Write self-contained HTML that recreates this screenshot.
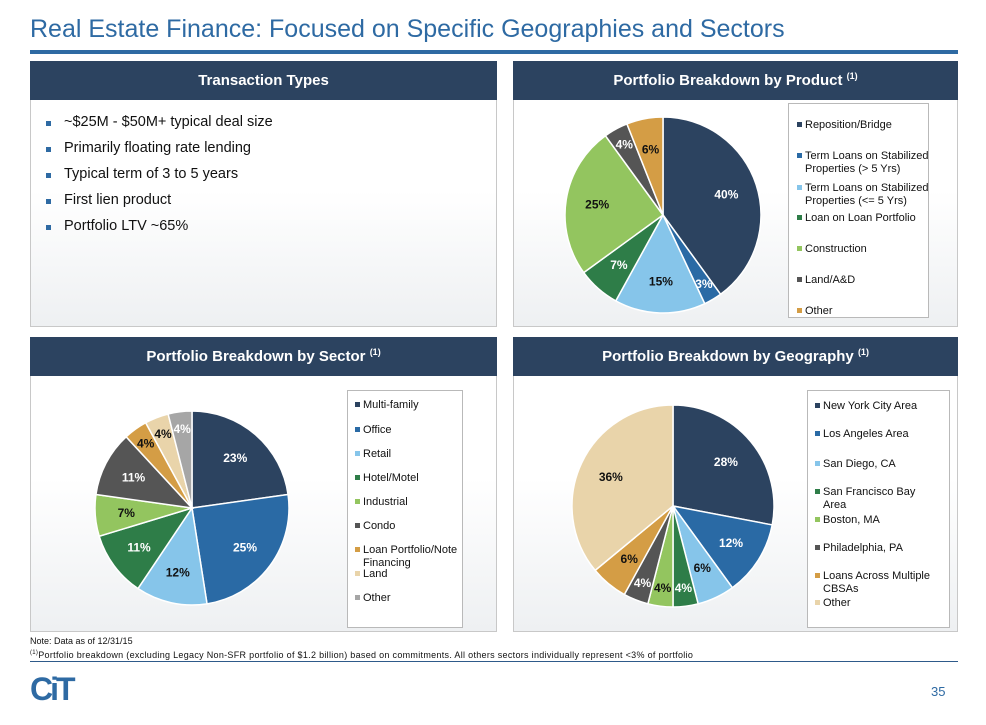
<!DOCTYPE html>
<html><head><meta charset="utf-8">
<style>
body{margin:0;width:986px;height:725px;background:#fff;font-family:"Liberation Sans",Arial,sans-serif;position:relative;overflow:hidden}
.abs{position:absolute}
.title{left:30px;top:15px;font-size:25px;color:#2e6aa3;white-space:nowrap}
.rule{left:30px;top:50px;width:928px;height:4px;background:#2e6aa3}
.hdr{background:#2c4360;color:#fff;font-weight:bold;font-size:15px;text-align:center;line-height:39px;height:39px}
.hdr sup{font-size:9px;line-height:0;vertical-align:6px}
.body{border:1px solid #c8c8c8;border-top:none;background:linear-gradient(#fff 40%,#eef0f2);box-sizing:border-box}
.bul{left:64px;font-size:14.5px;color:#111}
.sq{left:46px;width:5px;height:5px;background:#2e6aa3}
.leg{border:1px solid #b9b9b9;background:#fff;box-sizing:border-box}
.li{font-size:11px;color:#111;line-height:13px;white-space:nowrap}
.li i{display:inline-block;width:5px;height:5px;margin-right:3px;vertical-align:1px}
.note{left:30px;font-size:9px;color:#111;white-space:nowrap}
</style></head><body>
<div class="abs title">Real Estate Finance: Focused on Specific Geographies and Sectors</div>
<div class="abs rule"></div>

<div class="abs hdr" style="left:30px;top:61px;width:467px">Transaction Types</div>
<div class="abs body" style="left:30px;top:100px;width:467px;height:227px"></div>
<div class="abs sq" style="top:121px"></div><div class="abs bul" style="top:114px">~$25M - $50M+ typical deal size</div>
<div class="abs sq" style="top:147px"></div><div class="abs bul" style="top:140px">Primarily floating rate lending</div>
<div class="abs sq" style="top:173px"></div><div class="abs bul" style="top:166px">Typical term of 3 to 5 years</div>
<div class="abs sq" style="top:199px"></div><div class="abs bul" style="top:192px">First lien product</div>
<div class="abs sq" style="top:225px"></div><div class="abs bul" style="top:218px">Portfolio LTV ~65%</div>

<div class="abs hdr" style="left:513px;top:61px;width:445px">Portfolio Breakdown by Product <sup>(1)</sup></div>
<div class="abs body" style="left:513px;top:100px;width:445px;height:227px"></div>
<div class="abs hdr" style="left:30px;top:337px;width:467px">Portfolio Breakdown by Sector <sup>(1)</sup></div>
<div class="abs body" style="left:30px;top:376px;width:467px;height:256px"></div>
<div class="abs hdr" style="left:513px;top:337px;width:445px">Portfolio Breakdown by Geography <sup>(1)</sup></div>
<div class="abs body" style="left:513px;top:376px;width:445px;height:256px"></div>

<div class="abs leg" style="left:788px;top:103px;width:141px;height:215px"></div>
<div class="abs leg" style="left:347px;top:390px;width:116px;height:238px"></div>
<div class="abs leg" style="left:807px;top:390px;width:143px;height:238px"></div>

<svg class="abs" style="left:0;top:0" width="986" height="725" id="charts"></svg>

<div class="abs note" style="top:636px">Note: Data as of 12/31/15</div>
<div class="abs note" style="top:650px;font-size:9px;letter-spacing:0.3px"><sup style="font-size:6px">(1)</sup>Portfolio breakdown (excluding Legacy Non-SFR portfolio of $1.2 billion)  based on commitments. All others sectors individually represent &lt;3% of portfolio</div>
<div class="abs" style="left:30px;top:661px;width:928px;height:1px;background:#2e5a8a"></div>
<div class="abs" style="left:30px;top:671px;font-size:32px;font-weight:bold;color:#2e6aa3;letter-spacing:-3px;font-family:'Liberation Sans',sans-serif">CiT</div>
<div class="abs" style="left:931px;top:684px;font-size:13px;color:#2e6aa3">35</div>

<script>
const productCats=["Reposition/Bridge","Term Loans on Stabilized\nProperties (> 5 Yrs)","Term Loans on Stabilized\nProperties (<= 5 Yrs)","Loan on Loan Portfolio","Construction","Land/A&D","Other"];
const productVals=[40,3,15,7,25,4,6];
const sectorCats=["Multi-family","Office","Retail","Hotel/Motel","Industrial","Condo","Loan Portfolio/Note\nFinancing","Land","Other"];
const sectorVals=[23,25,12,11,7,11,4,4,4];
const geoCats=["New York City Area","Los Angeles Area","San Diego, CA","San Francisco Bay\nArea","Boston, MA","Philadelphia, PA","Loans Across Multiple\nCBSAs","Other"];
const geoVals=[28,12,6,4,4,4,6,36];

const C={navy:"#2c4360",blue:"#2a6aa5",lblue:"#86c5ea",green:"#2e7d48",lgreen:"#93c55f",grey:"#555555",gold:"#d49d45",beige:"#e9d4aa",lgrey:"#a6a6a6"};
const dark={navy:1,blue:1,green:1,grey:1,lgrey:1};
const svg=document.getElementById('charts');
const NS="http://www.w3.org/2000/svg";
function pie(name,vals,cols,cx,cy,r){
  const tot=vals.reduce((a,b)=>a+b,0);
  let a0=-Math.PI/2;
  vals.forEach((v,i)=>{
    const a1=a0+v/tot*2*Math.PI;
    const large=(a1-a0)>Math.PI?1:0;
    const p=document.createElementNS(NS,'path');
    p.setAttribute('d',`M${cx},${cy}L${cx+r*Math.cos(a0)},${cy+r*Math.sin(a0)}A${r},${r} 0 ${large} 1 ${cx+r*Math.cos(a1)},${cy+r*Math.sin(a1)}Z`);
    p.setAttribute('fill',C[cols[i]]);p.setAttribute('stroke','#fff');p.setAttribute('stroke-width','1.5');
    
    
    svg.appendChild(p);
    const am=(a0+a1)/2, lr=v<6?r*0.82:r*0.68;
    const t=document.createElementNS(NS,'text');
    t.setAttribute('x',cx+lr*Math.cos(am));t.setAttribute('y',cy+lr*Math.sin(am)+4);
    t.setAttribute('text-anchor','middle');t.setAttribute('font-size','12');t.setAttribute('font-weight','bold');
    t.setAttribute('font-family','Liberation Sans, sans-serif');
    t.setAttribute('fill',dark[cols[i]]?'#fff':'#111');
    t.textContent=v+'%';
    
    
    svg.appendChild(t);
    a0=a1;
  });
}
function legend(name,cats,cols,x,ys){
  cats.forEach((c,i)=>{
    const d=document.createElement('div');
    d.className='abs li';d.style.left=x+'px';d.style.top=ys[i]+'px';
    const lines=c.split('\n');
    d.innerHTML='<i style="background:'+C[cols[i]]+'"></i>'+lines.map(s=>s.replace(/&/g,'&amp;').replace(/</g,'&lt;')).join('<br><span style="padding-left:8px"></span>');
    
    
    document.body.appendChild(d);
  });
}
const pc=["navy","blue","lblue","green","lgreen","grey","gold"];
const sc=["navy","blue","lblue","green","lgreen","grey","gold","beige","lgrey"];
const gc=["navy","blue","lblue","green","lgreen","grey","gold","beige"];
pie('product',productVals,pc,663,215,98);
pie('sector',sectorVals,sc,192,508,97);
pie('geography',geoVals,gc,673,506,101);
legend('product',productCats,pc,797,[119,150,182,212,243,274,305]);
legend('sector',sectorCats,sc,355,[399,424,448,472,496,520,544,568,592]);
legend('geography',geoCats,gc,815,[400,428,458,486,514,542,570,597]);
</script>
</body></html>
